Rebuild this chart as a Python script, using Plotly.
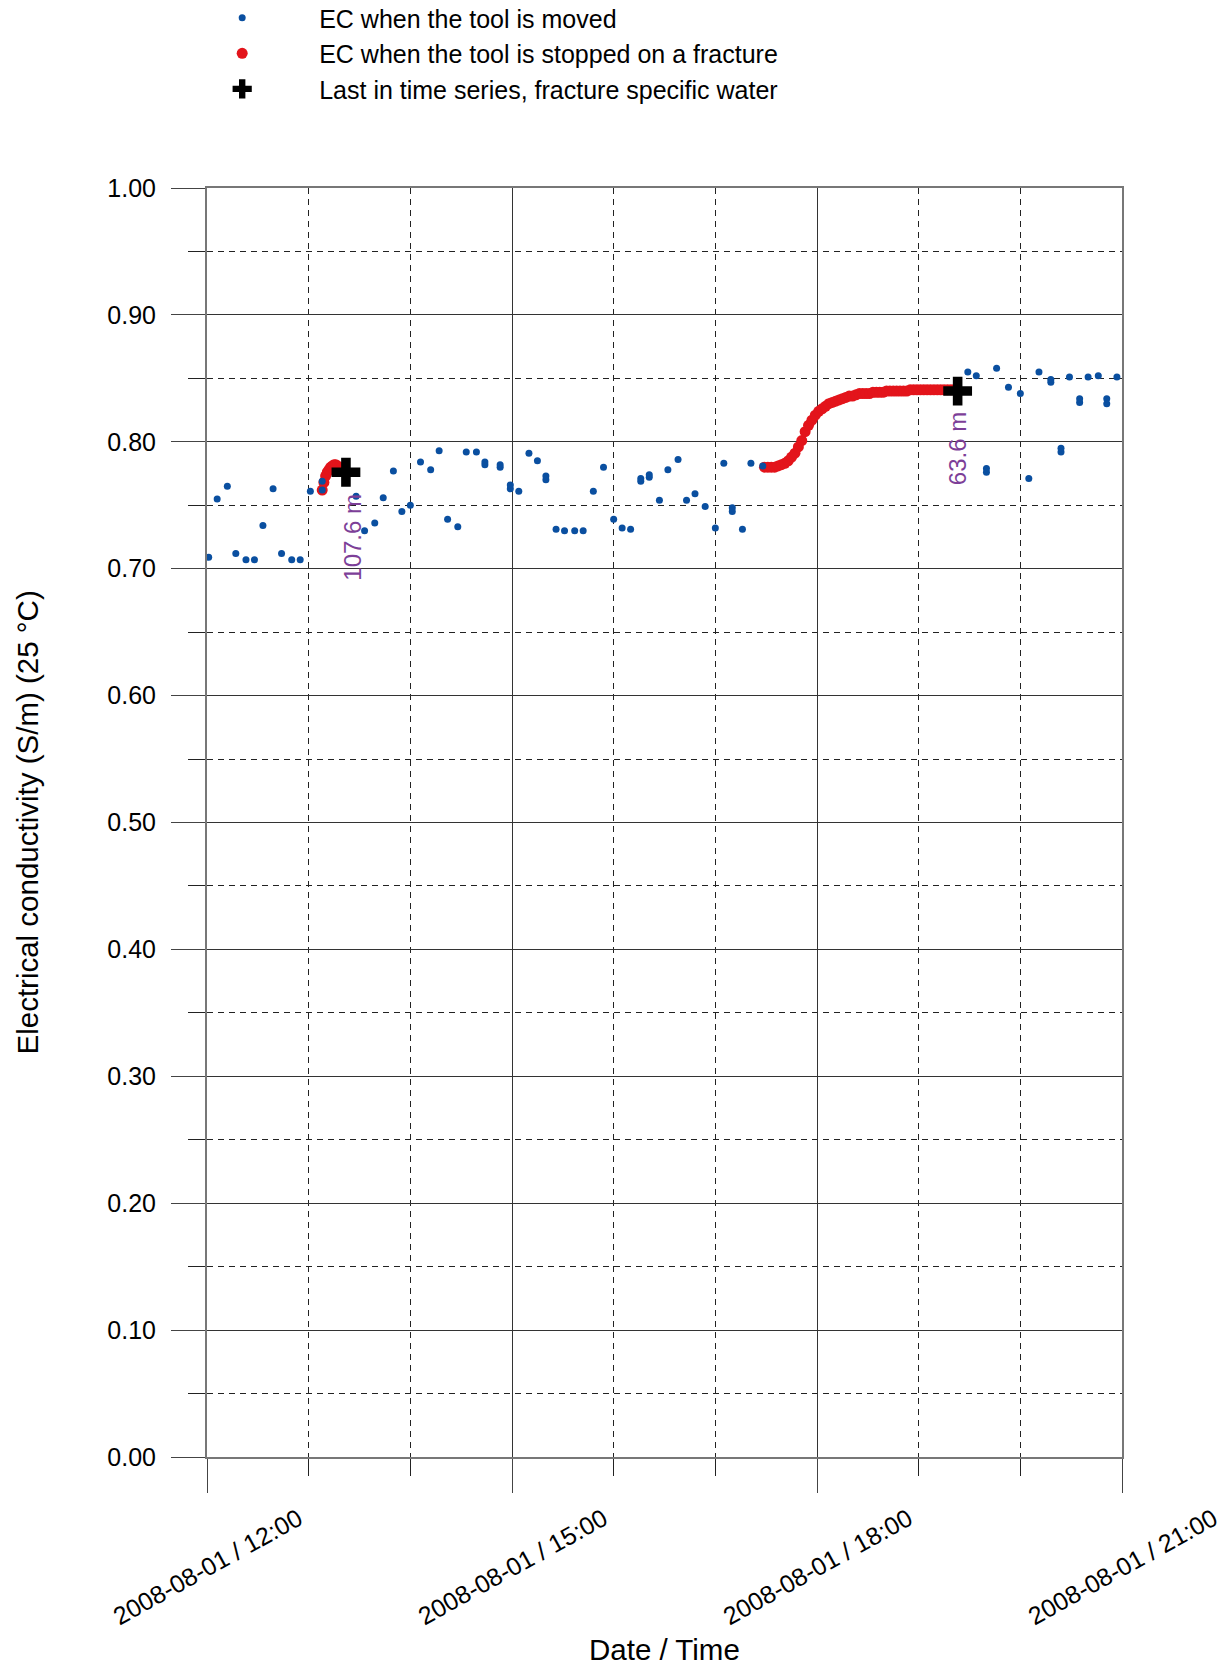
import plotly.graph_objects as go

day = "2008-08-01 "

# EC when the tool is moved (blue dots)
blue_time = ["12:01", "12:06", "12:12", "12:17", "12:23", "12:28", "12:33", "12:39", "12:44", "12:50",
             "12:55", "13:01", "13:08", "13:08", "13:28", "13:33", "13:39", "13:44", "13:50", "13:55",
             "14:00", "14:06", "14:12", "14:17", "14:22", "14:28", "14:33", "14:39", "14:44", "14:44",
             "14:53", "14:53", "14:59", "14:59", "15:04", "15:10", "15:15", "15:20", "15:20", "15:26",
             "15:31", "15:37", "15:42", "15:48", "15:54", "16:00", "16:05", "16:10", "16:16", "16:16",
             "16:21", "16:21", "16:27", "16:32", "16:38", "16:43", "16:48", "16:54", "17:00", "17:05",
             "17:10", "17:10", "17:16", "17:21", "17:28",
             "19:29", "19:34", "19:40", "19:40", "19:46", "19:53", "20:00", "20:05", "20:11", "20:18",
             "20:18", "20:24", "20:24", "20:29", "20:35", "20:35", "20:40", "20:46", "20:51", "20:51",
             "20:57"]
blue_ec = [0.709, 0.755, 0.765, 0.712, 0.707, 0.707, 0.734, 0.763, 0.712, 0.707,
           0.707, 0.761, 0.762, 0.769, 0.757, 0.730, 0.736, 0.756, 0.777, 0.745,
           0.750, 0.784, 0.778, 0.793, 0.739, 0.733, 0.792, 0.792, 0.782, 0.784,
           0.780, 0.782, 0.763, 0.766, 0.761, 0.791, 0.785, 0.770, 0.773, 0.731,
           0.730, 0.730, 0.730, 0.761, 0.780, 0.739, 0.732, 0.731, 0.769, 0.771,
           0.772, 0.774, 0.754, 0.778, 0.786, 0.754, 0.759, 0.749, 0.732, 0.783,
           0.745, 0.748, 0.731, 0.783, 0.781,
           0.855, 0.852, 0.776, 0.779, 0.858, 0.843, 0.838, 0.771, 0.855, 0.847,
           0.849, 0.792, 0.795, 0.851, 0.831, 0.834, 0.851, 0.852, 0.830, 0.834,
           0.851]

# EC when the tool is stopped on a fracture (red)
red_time = ["13:08", "13:09", "13:10", "13:11", "13:12", "13:13", "13:14", "13:15", "13:16", "13:17",
            "13:18", "13:19", "13:20", "13:21", "13:22",
            "17:29", "17:31", "17:33", "17:35", "17:37", "17:39", "17:41", "17:43", "17:45", "17:47",
            "17:49", "17:51", "17:53", "17:55", "17:57", "17:59", "18:01", "18:03", "18:05", "18:07",
            "18:09", "18:11", "18:13", "18:15", "18:17", "18:19", "18:21", "18:23", "18:25", "18:27",
            "18:29", "18:31", "18:33", "18:35", "18:37", "18:39", "18:41", "18:43", "18:45", "18:47",
            "18:49", "18:51", "18:53", "18:55", "18:57", "18:59", "19:01", "19:03", "19:05", "19:07",
            "19:09", "19:11", "19:13", "19:15", "19:17", "19:19", "19:21", "19:22"]
red_ec = [0.762, 0.768, 0.773, 0.776, 0.778, 0.780, 0.781, 0.782, 0.782, 0.781,
          0.780, 0.779, 0.778, 0.777, 0.776,
          0.780, 0.780, 0.780, 0.780, 0.781, 0.782, 0.783, 0.785, 0.788, 0.791,
          0.796, 0.801, 0.808, 0.813, 0.817, 0.821, 0.824, 0.826, 0.828, 0.830,
          0.831, 0.832, 0.833, 0.834, 0.835, 0.836, 0.836, 0.837, 0.838, 0.838,
          0.838, 0.838, 0.839, 0.839, 0.839, 0.839, 0.840, 0.840, 0.840, 0.840,
          0.840, 0.840, 0.840, 0.841, 0.841, 0.841, 0.841, 0.841, 0.841, 0.841,
          0.841, 0.841, 0.841, 0.841, 0.841, 0.841, 0.841, 0.841]

# last in time series, fracture specific water
cross_time = ["13:22", "19:23"]
cross_ec = [0.776, 0.840]
cross_depth = ["107.6 m", "63.6 m"]

x_ticks = ["12:00", "15:00", "18:00", "21:00"]
x_ticktext = ["2008-08-01 / 12:00", "2008-08-01 / 15:00", "2008-08-01 / 18:00", "2008-08-01 / 21:00"]
y_ticks = [0.0, 0.1, 0.2, 0.3, 0.4, 0.5, 0.6, 0.7, 0.8, 0.9, 1.0]

fnt = "Liberation Sans"
blue = "#0a4fa0"; red = "#e3141b"; purple = "#7d3f98"

fig = go.Figure()

fig.add_trace(go.Scatter(
    x=[day + t for t in red_time], y=red_ec, mode="markers",
    name="EC when the tool is stopped on a fracture", legendgroup="b",
    marker=dict(size=11, color=red), legendrank=2))

fig.add_trace(go.Scatter(
    x=[day + t for t in blue_time], y=blue_ec, mode="markers",
    name="EC when the tool is moved", legendgroup="a",
    marker=dict(size=7, color=blue), legendrank=1))

fig.add_trace(go.Scatter(
    x=[day + t for t in cross_time], y=cross_ec, mode="markers",
    name="Last in time series, fracture specific water", legendgroup="c",
    marker=dict(size=24, color="black", symbol="cross"), legendrank=3))

# depth labels under the crosses
for t, v, lab, dx in zip(cross_time, cross_ec, cross_depth, [7, 0]):
    fig.add_annotation(x=day + t, y=v, text=lab, showarrow=False, textangle=-90,
                       xanchor="center", yanchor="top", xshift=dx, yshift=-19,
                       font=dict(size=24, color=purple, family=fnt))

# rotated, centred date labels
for t, lab in zip(x_ticks, x_ticktext):
    fig.add_annotation(x=day + t, y=0, yref="paper", text=lab, showarrow=False,
                       xanchor="center", yanchor="middle",
                       textangle=-29, yshift=-110, font=dict(size=25, color="black", family=fnt))

fig.add_annotation(x=0.5, y=0, xref="paper", yref="paper", text="Date / Time", showarrow=False,
                   xanchor="center", yanchor="middle",
                   yshift=-192, font=dict(size=29.5, color="black", family=fnt))
fig.add_annotation(x=0, y=0.5, xref="paper", yref="paper", text="Electrical conductivity (S/m) (25 °C)",
                   showarrow=False, textangle=-90, xanchor="center", yanchor="middle",
                   xshift=-180, font=dict(size=29.5, color="black", family=fnt))

fig.update_xaxes(
    type="date", range=[day + x_ticks[0], day + x_ticks[-1]],
    tickmode="array", tickvals=[day + t for t in x_ticks], showticklabels=False,
    ticks="outside", ticklen=34, tickcolor="#444", tickwidth=1,
    showgrid=True, gridcolor="#333", gridwidth=1,
    showline=True, linecolor="#777", linewidth=2, mirror=True, zeroline=False,
    minor=dict(dtick=3600000, tick0=day + "12:00", ticks="outside", ticklen=17, tickcolor="#222",
               showgrid=True, gridcolor="#222", griddash="6px,5px", gridwidth=1))

fig.update_yaxes(
    range=[0, 1], tickmode="array", tickvals=y_ticks, tickformat=".2f",
    ticks="outside", ticklen=34, tickcolor="#444", tickwidth=1, ticklabelstandoff=10,
    tickfont=dict(size=25, color="black", family=fnt),
    showgrid=True, gridcolor="#333", gridwidth=1,
    showline=True, linecolor="#777", linewidth=2, mirror=True, zeroline=False,
    minor=dict(dtick=0.05, tick0=0, ticks="outside", ticklen=17, tickcolor="#222",
               showgrid=True, gridcolor="#222", griddash="6px,5px", gridwidth=1))

fig.update_layout(
    width=1223, height=1660,
    margin=dict(l=199, r=108.5, t=180, b=210.5, autoexpand=False),
    paper_bgcolor="white", plot_bgcolor="white",
    font=dict(family=fnt, size=25, color="black"),
    showlegend=True,
    legend=dict(x=-0.0457, y=1.152, xanchor="left", yanchor="top", itemwidth=144,
                font=dict(size=25, color="black", family=fnt), bgcolor="rgba(0,0,0,0)",
                traceorder="normal", tracegroupgap=5))

fig.write_html("out.html")
